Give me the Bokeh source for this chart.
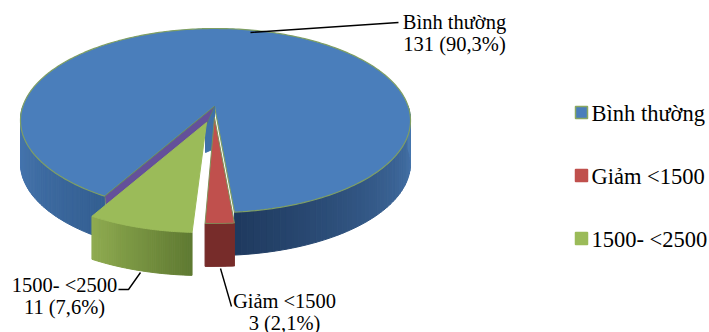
import math
from bokeh.plotting import figure
from bokeh.models import Range1d
from bokeh.core.properties import value
from bokeh.embed import file_html
from bokeh.resources import INLINE

# Patient counts per category
categories = ["Bình thường", "Giảm <1500", "1500- <2500"]
counts = [131, 3, 11]
percent_labels = ["90,3%", "2,1%", "7,6%"]
top_colors = ["#4a7ebb", "#c0504d", "#9bbb59"]

# Projection of the tilted pie onto the page
CX, CY, RX, RY = 215, 120, 195, 92
APEX = (214, 106)
DEPTH = 43
WARP = 0.16
FIRST_ANGLE = 4.8
RED_SHIFT = (0, 11)
GREEN_SHIFT = (-13, 20)
FONT = value("Liberation Serif")


def project(deg, shift=(0, 0)):
    t = math.radians(deg)
    t = t + WARP * math.sin(t)
    return CX + RX * math.sin(t) + shift[0], CY + RY * math.cos(t) + shift[1]


def arc(a0, a1, shift=(0, 0), n=120):
    return [project(a0 + (a1 - a0) * i / n, shift) for i in range(n + 1)]


def mix(c0, c1, f):
    a = [int(c0[i:i + 2], 16) for i in (1, 3, 5)]
    b = [int(c1[i:i + 2], 16) for i in (1, 3, 5)]
    return "#%02x%02x%02x" % tuple(round(x + (y - x) * f) for x, y in zip(a, b))


total = sum(counts)
blue_sweep = 360 * counts[0] / total
red_sweep = 360 * counts[1] / total
green_sweep = 360 * counts[2] / total
blue_start = FIRST_ANGLE
blue_end = blue_start + blue_sweep
red_start = blue_start
red_end = red_start - red_sweep
green_start = red_end
green_end = green_start - green_sweep

p = figure(width=709, height=332, output_backend="svg", toolbar_location=None,
           x_range=Range1d(0, 709), y_range=Range1d(332, 0), min_border=0)
p.axis.visible = False
p.grid.visible = False
p.outline_line_color = None
p.background_fill_color = "white"
p.border_fill_color = "white"


def poly(points, fill, line=None, width=1):
    p.patch([q[0] for q in points], [q[1] for q in points], fill_color=fill,
            line_color=line or fill, line_width=width)


def wall(a0, a1, shift, c0, c1, n=50):
    # Rim of a slice, shaded strip by strip
    pts = arc(a0, a1, shift, n)
    for i in range(n):
        (x0, y0), (x1, y1) = pts[i], pts[i + 1]
        c = mix(c0, c1, i / (n - 1))
        poly([(x0, y0), (x1, y1), (x1, y1 + DEPTH), (x0, y0 + DEPTH)], c, c, 1)


# Large slice: rim on both sides, then its top face
wall(blue_start, 90, (0, 0), "#1f3a5f", "#4a7ab2")
wall(270, blue_end, (0, 0), "#4b7cb6", "#345f92")
blue_outline = arc(blue_start, blue_end, n=300)
poly([APEX] + blue_outline, top_colors[0], "#7f9f63", 1.2)

# Cut faces seen through the notch
end_x, end_y = blue_outline[-1]
poly([APEX, (APEX[0] - 9, APEX[1] + 12), (APEX[0] - 9, APEX[1] + 46), (APEX[0], APEX[1] + 42)],
     "#3f70a8")
poly([APEX, (end_x, end_y), (end_x + 1, end_y + 9), (APEX[0] - 8, APEX[1] + 18)],
     "#64509a", "#5f7f5f", 0.8)

# Pulled-out 1500- <2500 slice
wall(green_start, green_end, GREEN_SHIFT, "#5f7a32", "#8fab50")
green_outline = arc(green_start, green_end, GREEN_SHIFT, 60)
poly([(APEX[0] - 8, APEX[1] + 16)] + green_outline, top_colors[2], "#9bbb59", 1)

# Pulled-out Giảm <1500 slice
red_outline = arc(red_start, red_end, RED_SHIFT, 30)
poly(red_outline + [(x, y + DEPTH) for x, y in reversed(red_outline)], "#772c2a")
poly([(APEX[0], APEX[1] + RED_SHIFT[1])] + red_outline, top_colors[1], "#7f8f58", 1)

# Leader lines
p.line([250, 398], [32, 22], line_color="black", line_width=1.4)
p.line([140, 128, 118], [272, 289, 289], line_color="black", line_width=1.4)
p.line([220, 231], [268, 306], line_color="black", line_width=1.4)

# Slice labels: name over count and share
label_x = [454, 284, 64]
label_y = [21, 300, 284]
for name, n, pct, x, y in zip(categories, counts, percent_labels, label_x, label_y):
    for text, yy in ((name, y), (f"{n} ({pct})", y + 22)):
        p.text([x], [yy], text=[text], text_font=FONT, text_font_size="20.5px", text_color="black",
               text_align="center", text_baseline="middle")

# Legend
legend_y = [112, 175, 238]
legend_border = ["#8aa860", top_colors[1], top_colors[2]]
for name, y, fill, edge in zip(categories, legend_y, top_colors, legend_border):
    poly([(575, y - 6), (587, y - 6), (587, y + 6), (575, y + 6)], fill, edge, 1.5)
    p.text([591], [y + 1], text=[name], text_font=FONT, text_font_size="22.5px", text_color="black",
           text_align="left", text_baseline="middle")

open("out.html", "w").write(file_html(p, INLINE))
